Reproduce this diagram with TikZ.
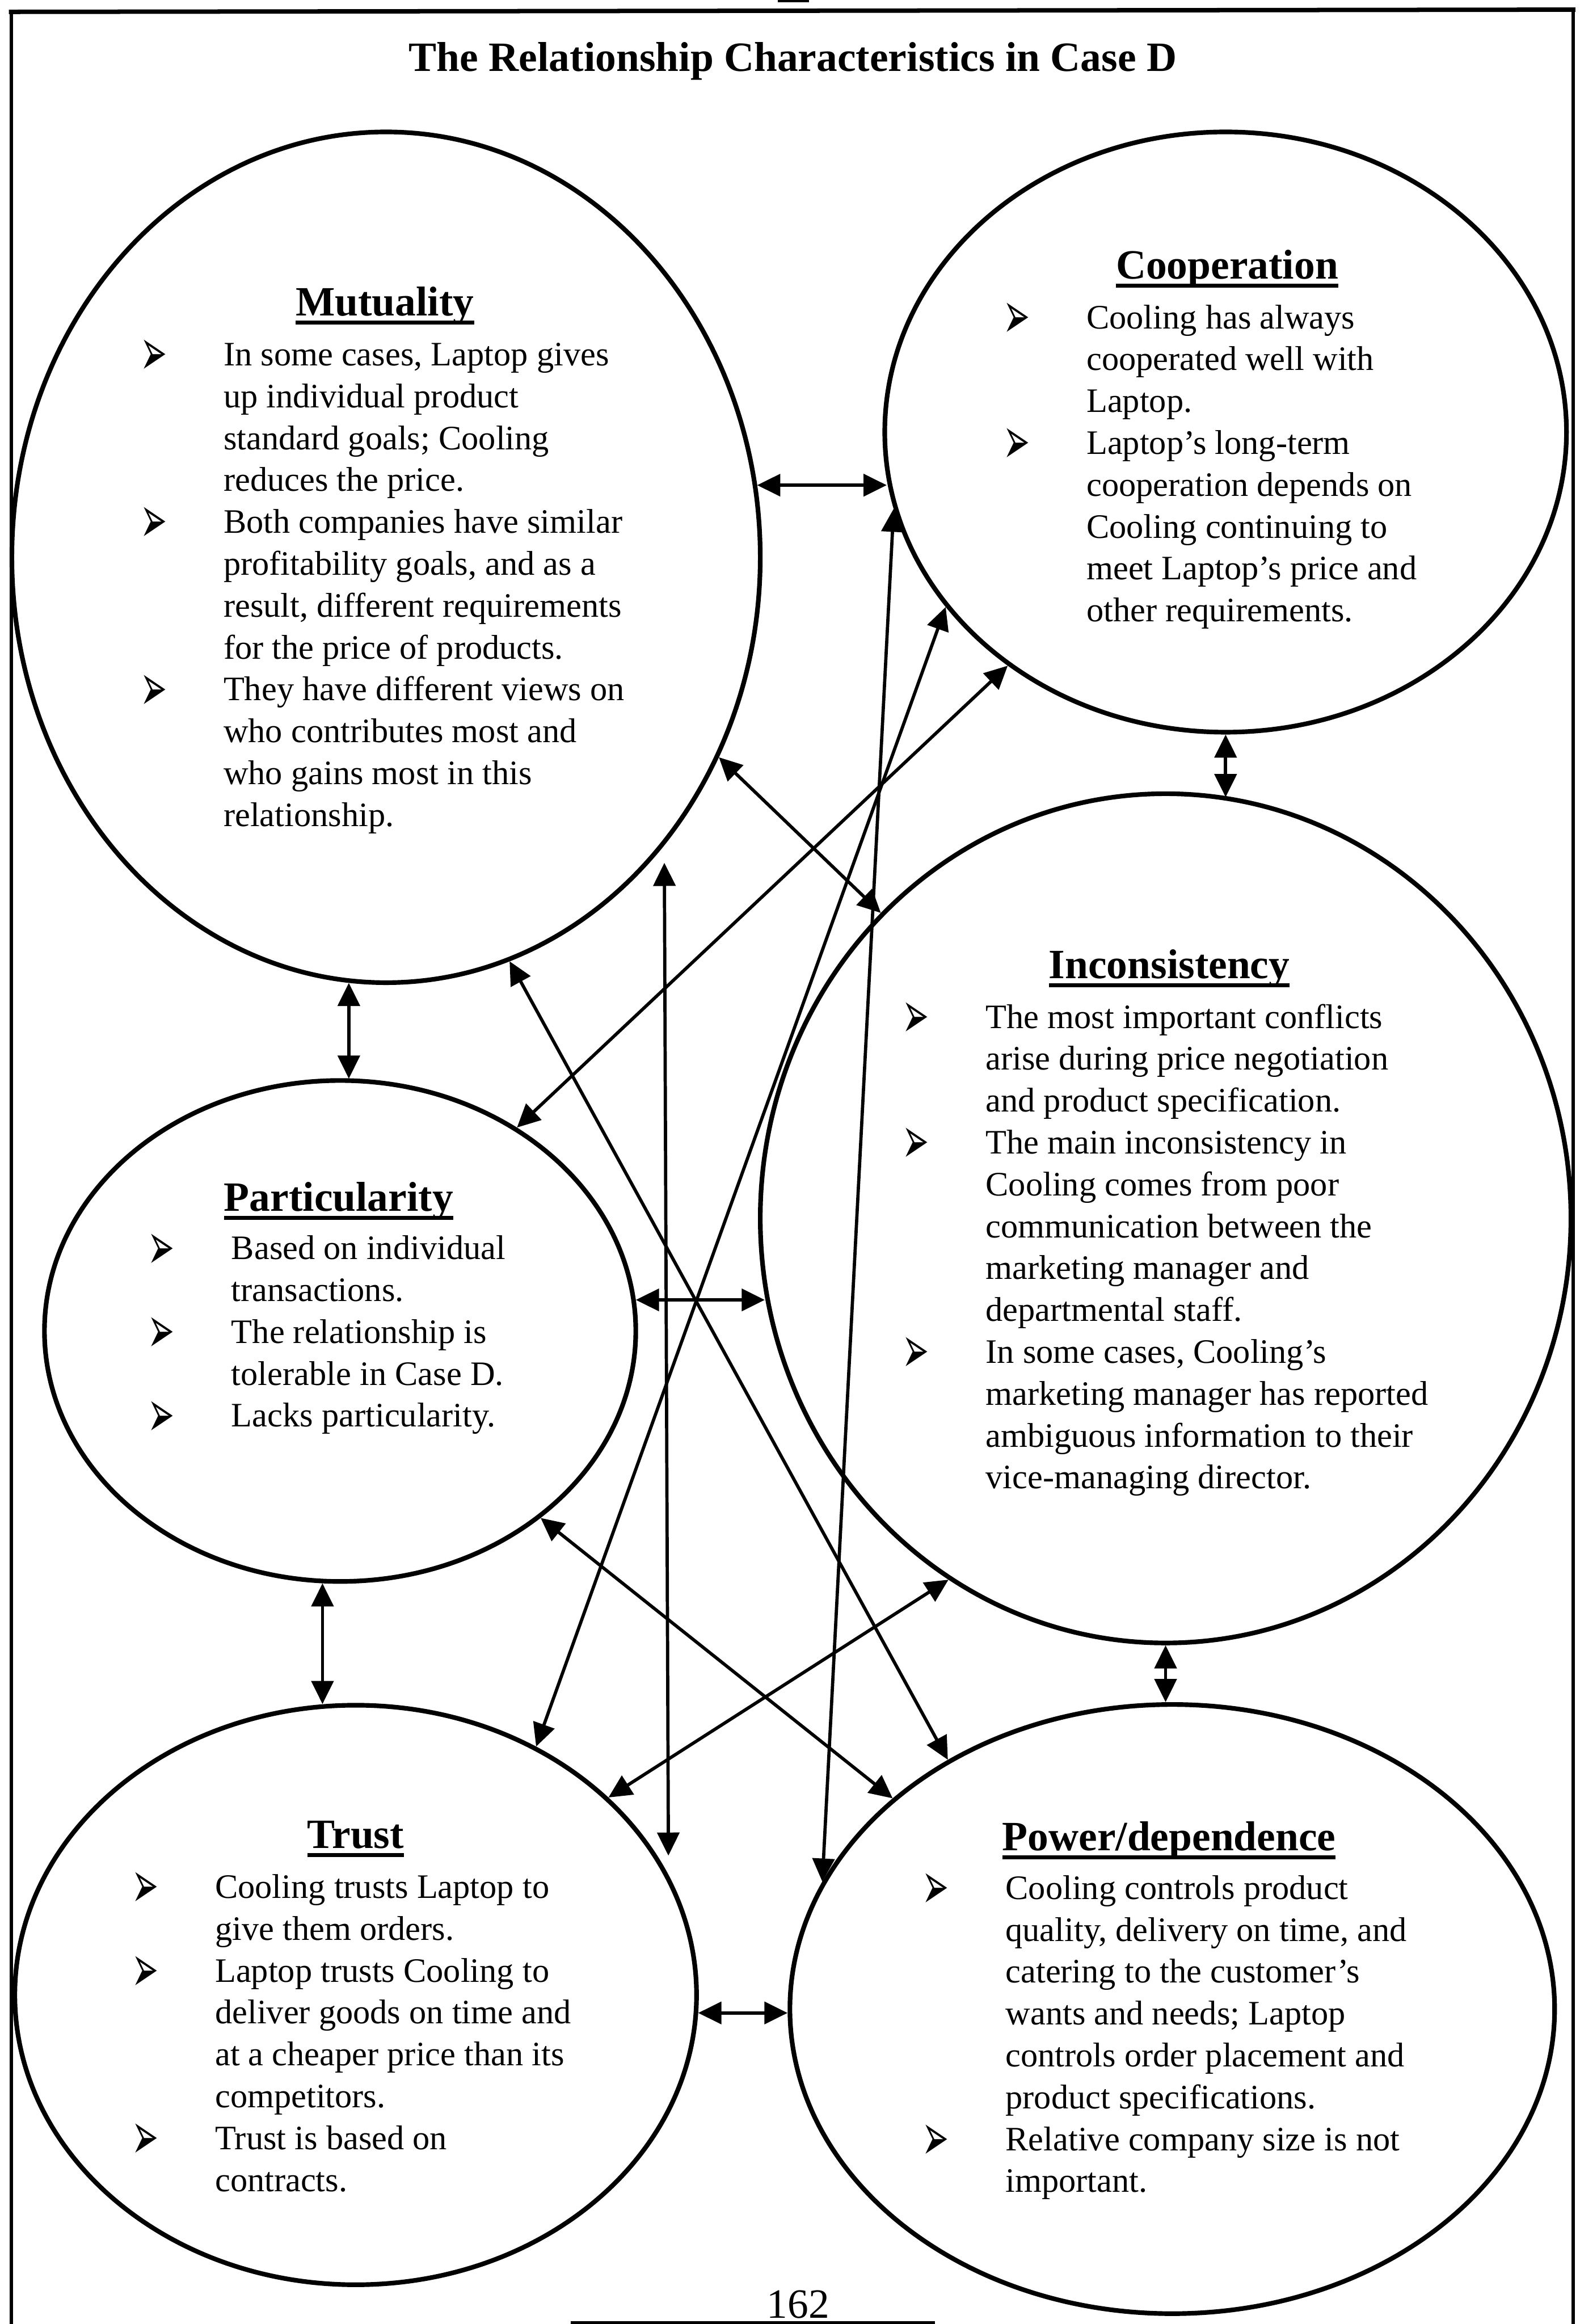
\documentclass[tikz,border=0pt]{standalone}
\usepackage{fontspec}
\setmainfont{Liberation Serif}
\newfontfamily\symfont{DejaVu Sans}
\usetikzlibrary{shapes.geometric,arrows.meta}

% one drawing unit = 0.04499cm
\newcommand\U{0.04499cm}

% list marker, hung to the left of the text column
\newcommand\bul{\llap{\makebox[72pt][l]{\symfont\fontsize{46}{46}\selectfont\raisebox{-8.5pt}{\scalebox{0.6}[1.25]{➢}}}}}

% underlined heading with the rule crossing the descenders
\newsavebox\hdbox
\newcommand\hdline[1]{\sbox\hdbox{#1}\rlap{\rule[-0.21em]{\wd\hdbox}{0.09em}}\usebox\hdbox}

% a column of text lines with a fixed leading
\newcommand\textblock[4]{%
  \foreach \ln [count=\i] in {#4}
    \node[txt] (#1-\i) at (#2, {#3+(\i-1)*28.25}) {\ln};
}

\begin{document}
\begin{tikzpicture}[
  x=\U, y=-\U,
  ell/.style={draw, ellipse, line width=4pt, inner sep=0pt},
  link/.style={{Triangle[length=20pt,width=19pt]}-{Triangle[length=20pt,width=19pt]}, line width=2.8pt},
  txt/.style={font=\fontsize{29.6}{36}\selectfont, inner sep=0pt, anchor=base west},
  hd/.style={font=\fontsize{36}{40}\selectfont\bfseries, inner sep=0pt, anchor=base},
  frame/.style={line width=2.8pt}
]
\useasboundingbox (0,0) rectangle (1066,1568);

% page frame
\draw[frame] (7.6,7) -- (7.6,1568);
\draw[frame] (1061.5,7) -- (1061.5,1568);
\draw[line width=3.8pt] (6,8) -- (1063,6.5);
\fill (525,0) rectangle (546,1.5);
\draw[line width=2.5pt] (385,1567) -- (631,1567);

% title and page number
\node[hd] (title) at (535,48.2) {The Relationship Characteristics in Case D};
\node[txt, anchor=base, font=\fontsize{36}{40}\selectfont] (page) at (538.6,1564) {162};

% the six characteristics
\node[ell, minimum width=505*\U, minimum height=574*\U] (mut) at (260.5,376) {};
\node[ell, minimum width=460*\U, minimum height=405*\U] (coop) at (827,291.5) {};
\node[ell, minimum width=547*\U, minimum height=573*\U] (inc) at (786.5,822) {};
\node[ell, minimum width=399*\U, minimum height=338*\U] (part) at (229.5,898) {};
\node[ell, minimum width=460*\U, minimum height=391*\U] (trust) at (240,1346) {};
\node[ell, minimum width=516*\U, minimum height=411*\U] (power) at (791,1355.5) {};

% headings
\node[hd] (mut-h) at (259.7,213) {\hdline{Mutuality}};
\node[hd] (coop-h) at (828,188) {\hdline{Cooperation}};
\node[hd] (inc-h) at (789,660) {\hdline{Inconsistency}};
\node[hd] (part-h) at (228.5,817) {\hdline{Particularity}};
\node[hd] (trust-h) at (240,1247) {\hdline{Trust}};
\node[hd] (power-h) at (788.8,1248.5) {\hdline{Power/dependence}};

% body text
\textblock{mut-t}{150.7}{246.7}{%
  {\bul In some cases, Laptop gives},
  {up individual product},
  {standard goals; Cooling},
  {reduces the price.},
  {\bul Both companies have similar},
  {profitability goals, and as a},
  {result, different requirements},
  {for the price of products.},
  {\bul They have different views on},
  {who contributes most and},
  {who gains most in this},
  {relationship.}}

\textblock{coop-t}{733}{221.7}{%
  {\bul Cooling has always},
  {cooperated well with},
  {Laptop.},
  {\bul Laptop’s long-term},
  {cooperation depends on},
  {Cooling continuing to},
  {meet Laptop’s price and},
  {other requirements.}}

\textblock{inc-t}{665}{693.7}{%
  {\bul The most important conflicts},
  {arise during price negotiation},
  {and product specification.},
  {\bul The main inconsistency in},
  {Cooling comes from poor},
  {communication between the},
  {marketing manager and},
  {departmental staff.},
  {\bul In some cases, Cooling’s},
  {marketing manager has reported},
  {ambiguous information to their},
  {vice-managing director.}}

\textblock{part-t}{156}{849.7}{%
  {\bul Based on individual},
  {transactions.},
  {\bul The relationship is},
  {tolerable in Case D.},
  {\bul Lacks particularity.}}

\textblock{trust-t}{145}{1280.7}{%
  {\bul Cooling trusts Laptop to},
  {give them orders.},
  {\bul Laptop trusts Cooling to},
  {deliver goods on time and},
  {at a cheaper price than its},
  {competitors.},
  {\bul Trust is based on},
  {contracts.}}

\textblock{power-t}{678.4}{1281.4}{%
  {\bul Cooling controls product},
  {quality, delivery on time, and},
  {catering to the customer’s},
  {wants and needs; Laptop},
  {controls order placement and},
  {product specifications.},
  {\bul Relative company size is not},
  {important.}}

% two-way links between every pair of characteristics
\draw[link] (mut.11.9) -- (mut.11.9 -| coop.188);
\draw[link] (mut.265.85) -- (mut.265.85 |- part.86.57);
\draw[link] (coop.270.84) -- (coop.270.84 |- inc.81.37);
\draw[link] (part.6.41) -- (part.6.41 -| inc.191.3);
\draw[link] (part.266.4) -- (part.266.4 |- trust.96.1);
\draw[link] (inc.270.4) -- (inc.270.4 |- power.90.7);
\draw[link] (trust.357.1) -- (trust.357.1 -| power.180.5);
\draw[link, shorten <=15pt, shorten >=16.6pt] (mut.314.8) -- (trust.21.07);
\draw[link] (coop.193.1) -- (power.160.5);
\draw[link] (mut.287.5) -- (power.132.6);
\draw[link] (mut.329) -- (inc.133.2);
\draw[link] (coop.212.1) -- (trust.54.3);
\draw[link] (coop.227.9) -- (part.49.7);
\draw[link] (part.317.4) -- (power.143.4);
\draw[link] (inc.239.1) -- (trust.38.3);
\end{tikzpicture}
\end{document}
